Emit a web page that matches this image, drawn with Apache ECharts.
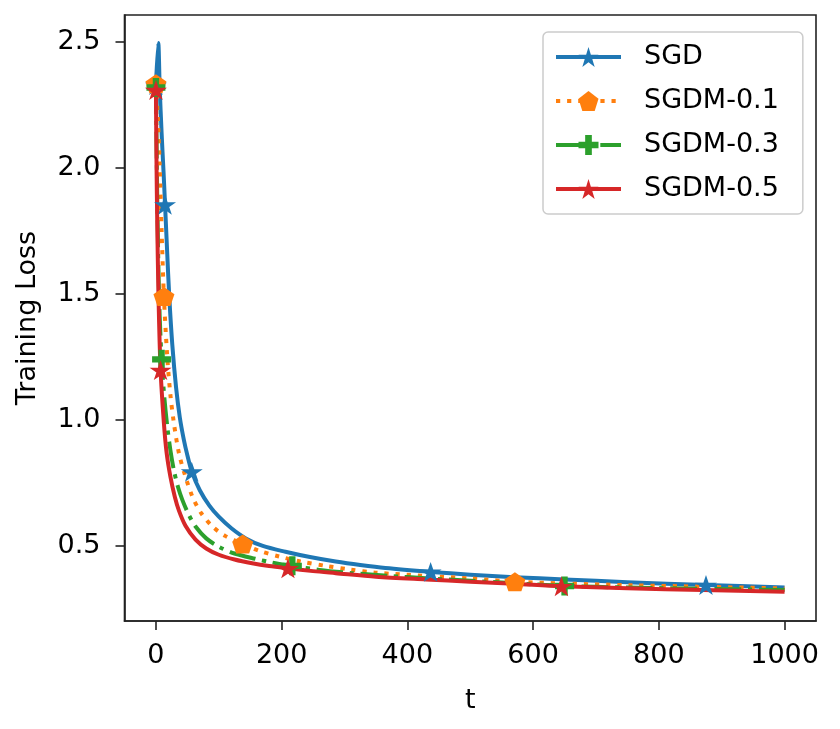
<!DOCTYPE html>
<html>
<head>
<meta charset="utf-8">
<script src="https://cdn.jsdelivr.net/npm/echarts@6/dist/echarts.min.js"></script>
<style>
  html, body { margin: 0; padding: 0; background: #fff; }
  #chart { width: 840px; height: 729px; }
</style>
</head>
<body>
<div id="chart"></div>
<script>
// values
const seriesNames = ['SGD', 'SGDM-0.1', 'SGDM-0.3', 'SGDM-0.5']
const xTicks = [0, 200, 400, 600, 800, 1000]
const yTicks = [0.5, 1.0, 1.5, 2.0, 2.5]

const sgdT = [0, 3.7, 6, 9, 12, 14.5, 18, 21, 26, 32, 38, 44.5, 50, 57, 70, 85, 100, 120, 143, 170, 206, 245, 286, 325, 365, 437, 500, 570, 650, 750, 875, 1000]
const sgdLoss = [2.33, 2.497, 2.32, 2.14, 1.99, 1.855, 1.66, 1.5, 1.3, 1.13, 1.01, 0.92, 0.86, 0.795, 0.72, 0.66, 0.616, 0.57, 0.53, 0.5, 0.477, 0.456, 0.438, 0.424, 0.412, 0.397, 0.386, 0.376, 0.367, 0.356, 0.345, 0.335]
const sgdMarks = [0, 14.5, 57, 437, 875]

const m01T = [0, 3, 5.8, 9, 12.7, 18, 23, 28.6, 36.6, 47, 58, 72, 90, 110, 138, 165, 196, 230, 270, 310, 349, 429, 500, 571, 650, 757, 870, 1000]
const m01Loss = [2.335, 2.2, 2.02, 1.754, 1.49, 1.251, 1.1, 0.987, 0.868, 0.775, 0.696, 0.63, 0.577, 0.54, 0.508, 0.48, 0.458, 0.438, 0.421, 0.406, 0.394, 0.381, 0.371, 0.358, 0.351, 0.344, 0.338, 0.331]
const m01Marks = [0, 12.7, 138, 571]

const m03T = [0, 2, 4, 6, 9, 13, 18, 23, 28.6, 35, 42, 52, 63, 80, 100, 125, 158, 185, 217, 260, 312, 370, 429, 500, 570, 650, 750, 870, 1000]
const m03Loss = [2.32, 1.9, 1.6, 1.41, 1.241, 1.1, 0.975, 0.88, 0.8, 0.735, 0.683, 0.625, 0.577, 0.53, 0.497, 0.47, 0.449, 0.434, 0.421, 0.405, 0.392, 0.381, 0.372, 0.362, 0.352, 0.341, 0.335, 0.33, 0.325]
const m03Marks = [0, 9, 217, 650]

const m05T = [0, 1, 2, 4, 7.4, 12.7, 17, 23, 30, 36.6, 47, 63, 80, 100, 125, 153, 180, 210, 250, 286, 350, 429, 500, 570, 645, 750, 870, 1000]
const m05Loss = [2.31, 2.0, 1.8, 1.5, 1.198, 0.987, 0.87, 0.775, 0.695, 0.64, 0.58, 0.525, 0.49, 0.465, 0.446, 0.431, 0.42, 0.411, 0.4, 0.392, 0.378, 0.367, 0.358, 0.35, 0.34, 0.332, 0.325, 0.318]
const m05Marks = [0, 7.4, 210, 645]

const colors = ['#1f77b4', '#ff7f0e', '#2ca02c', '#d62728']

// matplotlib-like marker shapes
const starPath = 'path://M50,0L61.23,34.55L97.55,34.55L68.17,55.9L79.39,90.45L50,69.1L20.61,90.45L31.83,55.9L2.45,34.55L38.77,34.55Z'
const pentagonPath = 'path://M50,0L97.55,34.55L79.39,90.45L20.61,90.45L2.45,34.55Z'
const plusPath = 'path://M20,0L40,0L40,20L60,20L60,40L40,40L40,60L20,60L20,40L0,40L0,20L20,20Z'

const font = 'DejaVu Sans'

function buildData(ts, ys, marks) {
  return ts.map((t, i) => {
    if (marks.indexOf(t) >= 0) return [t, ys[i]]
    return { value: [t, ys[i]], symbol: 'none' }
  })
}

function makeSeries(name, ts, ys, marks, color, symbol, size, dash) {
  return {
    name: name,
    type: 'line',
    data: buildData(ts, ys, marks),
    symbol: symbol,
    symbolSize: size,
    symbolKeepAspect: true,
    showSymbol: true,
    smooth: 0.3,
    color: color,
    itemStyle: { color: color },
    lineStyle: { color: color, width: 4, type: dash, cap: 'butt', join: 'round' },
    emphasis: { disabled: true },
    silent: true
  }
}

const chart = echarts.init(document.getElementById('chart'))

chart.setOption({
  animation: false,
  backgroundColor: '#fff',
  grid: {
    left: 124.5, right: 24, top: 15, bottom: 108,
    show: true, borderColor: '#222', borderWidth: 1.6, backgroundColor: 'transparent'
  },
  legend: {
    data: seriesNames,
    orient: 'vertical',
    left: 543, top: 32,
    padding: [10, 24, 10, 11],
    itemWidth: 65, itemHeight: 25, itemGap: 14,
    backgroundColor: 'rgba(255,255,255,0.8)',
    borderColor: '#cccccc', borderWidth: 1.5, borderRadius: 5,
    selectedMode: false,
    lineStyle: { width: 4 },
    textStyle: { fontFamily: font, fontSize: 27, color: '#000', lineHeight: 30, padding: [0, 0, 0, 18] }
  },
  xAxis: {
    type: 'value',
    min: -50, max: 1050,
    name: 't', nameLocation: 'middle', nameGap: 66,
    nameTextStyle: { fontFamily: font, fontSize: 27, color: '#000' },
    axisLine: { show: true, onZero: false, lineStyle: { color: '#222', width: 1.6 } },
    axisTick: { show: true, length: 9, customValues: xTicks, lineStyle: { color: '#222', width: 1.6 } },
    axisLabel: {
      customValues: xTicks, margin: 21, fontFamily: font, fontSize: 27, color: '#000',
      formatter: v => String(v)
    },
    splitLine: { show: false }
  },
  yAxis: {
    type: 'value',
    min: 0.202, max: 2.608,
    name: 'Training Loss', nameLocation: 'middle', nameGap: 83, nameRotate: 90,
    nameTextStyle: { fontFamily: font, fontSize: 27, color: '#000' },
    axisLine: { show: true, onZero: false, lineStyle: { color: '#222', width: 1.6 } },
    axisTick: { show: true, length: 9, customValues: yTicks, lineStyle: { color: '#222', width: 1.6 } },
    axisLabel: {
      customValues: yTicks, margin: 24, fontFamily: font, fontSize: 27, color: '#000',
      formatter: v => v.toFixed(1)
    },
    splitLine: { show: false }
  },
  series: [
    makeSeries(seriesNames[0], sgdT, sgdLoss, sgdMarks, colors[0], starPath, [22, 21], 'solid'),
    makeSeries(seriesNames[1], m01T, m01Loss, m01Marks, colors[1], pentagonPath, [21, 20], [4.2, 6.9]),
    makeSeries(seriesNames[2], m03T, m03Loss, m03Marks, colors[2], plusPath, [19, 19], [26.7, 6.7, 4.2, 6.7]),
    makeSeries(seriesNames[3], m05T, m05Loss, m05Marks, colors[3], starPath, [22, 21], 'solid')
  ]
})
</script>
</body>
</html>
